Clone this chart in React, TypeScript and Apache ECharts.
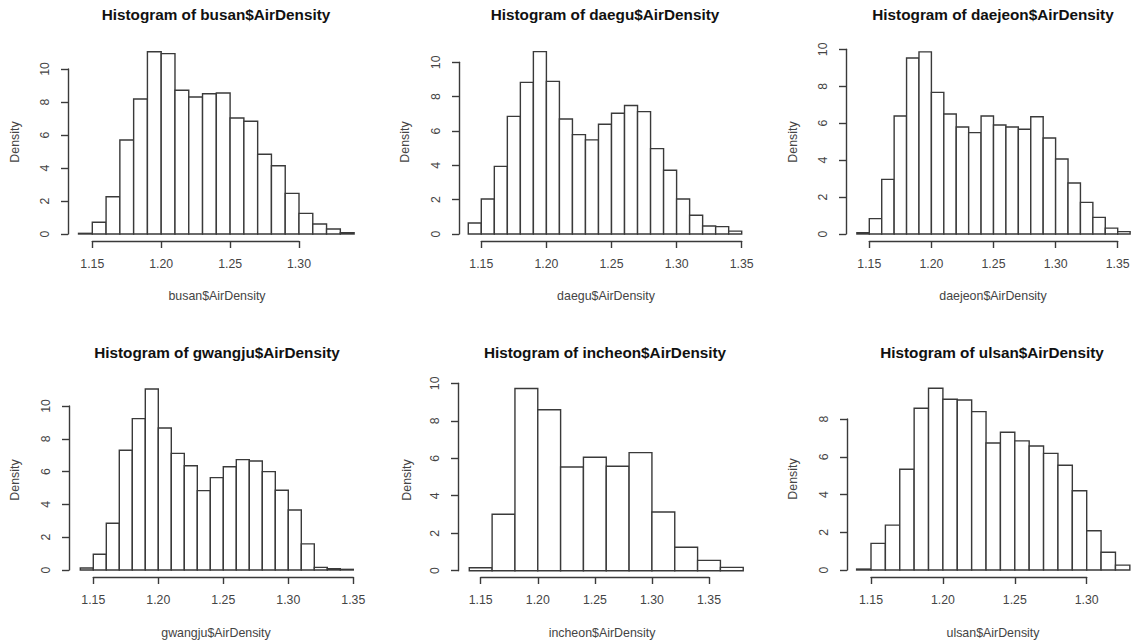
import React, { useEffect, useRef } from "react";
import * as echarts from "echarts";

// ---------- data ----------
const busanBreaks = [1.14, 1.15, 1.16, 1.17, 1.18, 1.19, 1.2, 1.21, 1.22, 1.23, 1.24, 1.25, 1.26, 1.27, 1.28, 1.29, 1.3, 1.31, 1.32, 1.33, 1.34];
const busanDensity = [0.04, 0.71, 2.26, 5.7, 8.18, 11.05, 10.93, 8.71, 8.3, 8.5, 8.55, 7.03, 6.83, 4.83, 4.14, 2.46, 1.25, 0.61, 0.3, 0.08];

const daeguBreaks = [1.14, 1.15, 1.16, 1.17, 1.18, 1.19, 1.2, 1.21, 1.22, 1.23, 1.24, 1.25, 1.26, 1.27, 1.28, 1.29, 1.3, 1.31, 1.32, 1.33, 1.34, 1.35];
const daeguDensity = [0.64, 2.04, 3.94, 6.85, 8.83, 10.62, 8.89, 6.7, 5.79, 5.48, 6.39, 7.03, 7.48, 7.13, 4.97, 3.71, 2.04, 1.09, 0.47, 0.43, 0.17];

const daejeonBreaks = [1.14, 1.15, 1.16, 1.17, 1.18, 1.19, 1.2, 1.21, 1.22, 1.23, 1.24, 1.25, 1.26, 1.27, 1.28, 1.29, 1.3, 1.31, 1.32, 1.33, 1.34, 1.35, 1.36];
const daejeonDensity = [0.07, 0.83, 2.96, 6.39, 9.53, 9.86, 7.67, 6.5, 5.79, 5.49, 6.39, 5.9, 5.79, 5.67, 6.35, 5.2, 4.06, 2.76, 1.71, 0.9, 0.32, 0.13];

const gwangjuBreaks = [1.14, 1.15, 1.16, 1.17, 1.18, 1.19, 1.2, 1.21, 1.22, 1.23, 1.24, 1.25, 1.26, 1.27, 1.28, 1.29, 1.3, 1.31, 1.32, 1.33, 1.34, 1.35];
const gwangjuDensity = [0.12, 0.96, 2.85, 7.3, 9.23, 11.04, 8.66, 7.11, 6.36, 4.84, 5.63, 6.3, 6.73, 6.65, 6.0, 4.86, 3.66, 1.59, 0.16, 0.08, 0.04];

const incheonBreaks = [1.14, 1.16, 1.18, 1.2, 1.22, 1.24, 1.26, 1.28, 1.3, 1.32, 1.34, 1.36, 1.38];
const incheonDensity = [0.16, 3.01, 9.72, 8.59, 5.53, 6.05, 5.57, 6.3, 3.13, 1.25, 0.55, 0.18];

const ulsanBreaks = [1.14, 1.15, 1.16, 1.17, 1.18, 1.19, 1.2, 1.21, 1.22, 1.23, 1.24, 1.25, 1.26, 1.27, 1.28, 1.29, 1.3, 1.31, 1.32, 1.33];
const ulsanDensity = [0.05, 1.41, 2.38, 5.34, 8.57, 9.63, 9.05, 9.01, 8.39, 6.73, 7.3, 6.84, 6.57, 6.18, 5.55, 4.2, 2.08, 0.94, 0.26];

const cityNames = ["busan", "daegu", "daejeon", "gwangju", "incheon", "ulsan"];
const allBreaks = [busanBreaks, daeguBreaks, daejeonBreaks, gwangjuBreaks, incheonBreaks, ulsanBreaks];
const allDensity = [busanDensity, daeguDensity, daejeonDensity, gwangjuDensity, incheonDensity, ulsanDensity];

// x tick range (min, max) and y tick max for each panel
const xTickRanges = [[1.15, 1.3], [1.15, 1.35], [1.15, 1.35], [1.15, 1.35], [1.15, 1.35], [1.15, 1.3]];
const yTickMax = [10, 10, 10, 10, 10, 8];
const xTickStep = 0.05;
const yTickStep = 2;

// ---------- layout (pixels) ----------
type Layout = {
  xPx: [number, number]; // pixel of x tick min / max
  yPx: [number, number]; // pixel of 0 / yTickMax
  axisX: number; // y-axis line x
  axisY: number; // x-axis line y
  title: [number, number];
  xName: [number, number];
  yName: [number, number];
};
const layouts: Layout[] = [
  { xPx: [92.3, 299], yPx: [234, 69], axisX: 68, axisY: 241, title: [216, 14], xName: [217, 296], yName: [15, 142] },
  { xPx: [481.3, 741.7], yPx: [234, 62.3], axisX: 459, axisY: 241, title: [605, 14], xName: [606, 296], yName: [405, 142] },
  { xPx: [869.3, 1117.7], yPx: [234, 49.3], axisX: 846, axisY: 241, title: [993, 14], xName: [993, 296], yName: [793, 142] },
  { xPx: [93.3, 353.3], yPx: [570, 406], axisX: 69, axisY: 577, title: [217, 352], xName: [216, 633], yName: [15, 480] },
  { xPx: [480.7, 709], yPx: [570.7, 383.3], axisX: 458, axisY: 577, title: [605, 352], xName: [602, 633], yName: [407, 480] },
  { xPx: [871, 1086.7], yPx: [570, 419], axisX: 847, axisY: 577, title: [992, 352], xName: [993, 633], yName: [793, 479] },
];

const FONT = "'Liberation Sans', Arial, Helvetica, sans-serif";
const LINE = "#3a3a3a";
const TEXT = "#444";
const Y_TOP = 12;
const LW = 1.4;

function buildOption() {
  const grid: any[] = [];
  const xAxis: any[] = [];
  const yAxis: any[] = [];
  const series: any[] = [];
  const graphic: any[] = [];

  cityNames.forEach((city, i) => {
    const L = layouts[i];
    const [t0, t1] = xTickRanges[i];
    const sx = (L.xPx[1] - L.xPx[0]) / (t1 - t0);
    const px = (v: number) => L.xPx[0] + (v - t0) * sx;
    const sy = (L.yPx[0] - L.yPx[1]) / yTickMax[i];
    const py = (v: number) => L.yPx[0] - v * sy;
    const breaks = allBreaks[i];
    const dens = allDensity[i];
    const b0 = breaks[0];
    const b1 = breaks[breaks.length - 1];

    // main plot grid (hidden axes)
    const g = grid.length;
    grid.push({ left: px(b0), top: py(Y_TOP), width: px(b1) - px(b0), height: py(0) - py(Y_TOP), containLabel: false });
    xAxis.push({ gridIndex: g, type: "value", min: b0, max: b1, show: false });
    yAxis.push({ gridIndex: g, type: "value", min: 0, max: Y_TOP, show: false });
    const axisIdx = xAxis.length - 1;
    series.push({
      type: "custom",
      xAxisIndex: axisIdx,
      yAxisIndex: axisIdx,
      data: dens.map((d, k) => [breaks[k], breaks[k + 1], d]),
      encode: { x: [0, 1], y: 2 },
      renderItem: (params: any, api: any) => {
        const p0 = api.coord([api.value(0), api.value(2)]);
        const p1 = api.coord([api.value(1), 0]);
        return {
          type: "rect",
          shape: { x: p0[0], y: p0[1], width: p1[0] - p0[0], height: p1[1] - p0[1] },
          style: { fill: "#fff", stroke: LINE, lineWidth: LW },
        };
      },
    });

    // x axis display grid
    const gx = grid.length;
    grid.push({ left: px(t0), top: L.axisY - 20, width: px(t1) - px(t0), height: 20 });
    xAxis.push({
      gridIndex: gx, type: "value", min: t0, max: t1, interval: xTickStep, position: "bottom",
      axisLine: { show: true, onZero: false, lineStyle: { color: LINE, width: LW } },
      axisTick: { show: true, length: 7, inside: false, lineStyle: { color: LINE, width: LW } },
      axisLabel: { show: true, margin: 17, fontSize: 12.3, color: TEXT, fontFamily: FONT, formatter: (v: number) => v.toFixed(2), showMinLabel: true, showMaxLabel: true },
      splitLine: { show: false },
    });
    yAxis.push({ gridIndex: gx, type: "value", min: 0, max: 1, show: false });

    // y axis display grid
    const gy = grid.length;
    grid.push({ left: L.axisX, top: py(yTickMax[i]), width: 20, height: py(0) - py(yTickMax[i]) });
    xAxis.push({ gridIndex: gy, type: "value", min: 0, max: 1, show: false });
    yAxis.push({
      gridIndex: gy, type: "value", min: 0, max: yTickMax[i], interval: yTickStep, position: "left",
      axisLine: { show: true, onZero: false, lineStyle: { color: LINE, width: LW } },
      axisTick: { show: true, length: 7, inside: false, lineStyle: { color: LINE, width: LW } },
      axisLabel: { show: true, rotate: 90, margin: 17, fontSize: 12.3, color: TEXT, fontFamily: FONT, showMinLabel: true, showMaxLabel: true },
      splitLine: { show: false },
    });

    // texts
    graphic.push({
      type: "text", x: L.title[0], y: L.title[1],
      style: { text: `Histogram of ${city}$AirDensity`, fontSize: 15.3, fontWeight: "bold", fontFamily: FONT, fill: "#111", align: "center", verticalAlign: "middle" },
    });
    graphic.push({
      type: "text", x: L.xName[0], y: L.xName[1],
      style: { text: `${city}$AirDensity`, fontSize: 12.4, fontFamily: FONT, fill: TEXT, align: "center", verticalAlign: "middle" },
    });
    graphic.push({
      type: "text", x: L.yName[0], y: L.yName[1], rotation: Math.PI / 2,
      style: { text: "Density", fontSize: 12.4, fontFamily: FONT, fill: TEXT, align: "center", verticalAlign: "middle" },
    });
  });

  return {
    animation: false,
    backgroundColor: "#fff",
    grid,
    xAxis,
    yAxis,
    series,
    graphic,
  };
}

export default function App() {
  const ref = useRef<HTMLDivElement>(null);
  useEffect(() => {
    if (!ref.current) return;
    const chart = echarts.init(ref.current, undefined, { renderer: "svg" });
    chart.setOption(buildOption());
    return () => chart.dispose();
  }, []);
  return (
    <div
      ref={ref}
      style={{ position: "absolute", left: 0, top: 0, width: 1141, height: 643, background: "#fff" }}
    />
  );
}
